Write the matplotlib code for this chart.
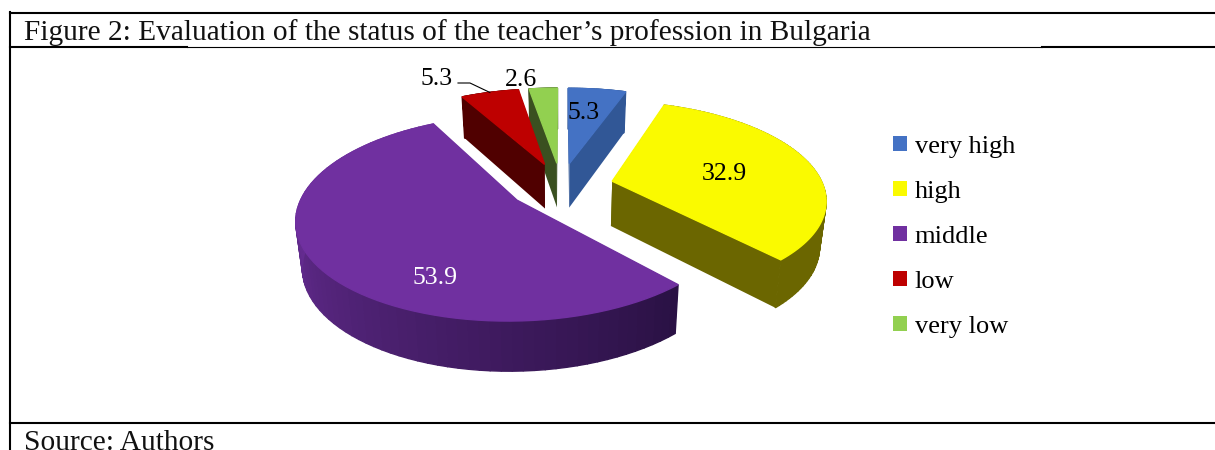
### MODULES USED: NUMPY AND MATPLOTLIB
import numpy as np
import matplotlib
matplotlib.use('Agg')
import matplotlib.pyplot as plt
from matplotlib.colors import to_rgb
from matplotlib.patches import Patch, Polygon

plt.rcParams['font.family'] = ['Liberation Serif', 'DejaVu Serif']

##### THE CHART DATA
categories = ['very high', 'high', 'middle', 'low', 'very low']
values = [5.3, 32.9, 53.9, 5.3, 2.6]
titleText = 'Figure 2: Evaluation of the status of the teacher\u2019s profession in Bulgaria'
sourceText = 'Source: Authors'

##### STYLES
topColors = ['#4472C4', '#FAFA00', '#7030A0', '#BE0000', '#92D050']
wallLight = ['#315796', '#6B6600', '#672D94', '#500000', '#3A5020']
wallDark = ['#315796', '#6B6600', '#2A1144', '#500000', '#3A5020']
labelColors = ['black', 'black', 'white', 'black', 'black']
labelPixels = [(584, 113), (724, 174), (435, 278), (437, 79), (521, 80)]

### THE PIE PROJECTION, ALL IN PIXELS OF THE 1215x450 PICTURE
centerX, centerY = 561, 186
radiusX, radiusY = 211, 95
perspective = 0.17
explode = 0.25
depth = 45
narrow = 0.975

### PUTS A POINT OF THE EXPLODED PIE ON THE PICTURE
def project(angle, radius, midAngle):
  planeX = radius * np.sin(angle) + explode * np.sin(midAngle)
  planeZ = radius * np.cos(angle) + explode * np.cos(midAngle)
  scale = 1 / (1 + perspective * planeZ)
  return(centerX + radiusX * planeX * scale, centerY - radiusY * planeZ * scale, np.sqrt(scale))

### THE SAME POINT ON THE UNDERSIDE OF THE PIE
def lower(x, y, s):
  return(centerX + (x - centerX) * narrow, y + depth * s)

### ONE SLICE: WALLS FIRST, THE TOP FACE GOES OVER THEM
def drawSlice(ax, start, end, index):
  mid = (start + end) / 2
  angles = np.linspace(start, end, 80)
  apex = project(0, 0, mid)

  for edge in (start, end):
    rim = project(edge, 1, mid)
    ax.add_patch(Polygon([apex[:2], rim[:2], lower(*rim), lower(*apex)],
                         facecolor=wallLight[index], edgecolor='none'))

  light, dark = np.array(to_rgb(wallLight[index])), np.array(to_rgb(wallDark[index]))
  for a, b in zip(angles[:-1], angles[1:]):
    p1 = project(a, 1, mid)
    p2 = project(b, 1, mid)
    ### THE SHADE GETS LIGHTER TOWARDS THE LEFT OF THE PIE
    shade = np.clip((np.degrees(a) - 137) / 133, 0, 1)
    color = dark + (light - dark) * shade
    ax.add_patch(Polygon([p1[:2], p2[:2], lower(*p2), lower(*p1)],
                         facecolor=color, edgecolor=color, linewidth=1.0))

  arc = [project(a, 1, mid)[:2] for a in angles]
  ax.add_patch(Polygon([apex[:2]] + arc, facecolor=topColors[index], edgecolor=topColors[index],
                       linewidth=1.0))

##### THE PICTURE
fig = plt.figure(figsize=(12.15, 4.5), dpi=100)
ax = fig.add_axes([0, 0, 1, 1])
ax.set_xlim(0, 1215)
ax.set_ylim(450, 0)
ax.axis('off')

### THE TABLE LINES AROUND THE FIGURE
ax.plot([10, 10], [12, 450], color='black', linewidth=1.5)
ax.plot([10, 1215], [12.5, 12.5], color='black', linewidth=1.5)
ax.plot([10, 1215], [423, 423], color='black', linewidth=1.5)
ax.plot([10, 187], [46.5, 46.5], color='black', linewidth=1.5)
ax.plot([187, 1042], [46.5, 46.5], color='black', linewidth=0.8)
ax.plot([1042, 1215], [46.5, 46.5], color='black', linewidth=1.5)

ax.text(24, 33, titleText, fontsize=21.2, va='center', ha='left', color='#111111')
ax.text(24, 449.5, sourceText, fontsize=21.2, va='baseline', ha='left', color='#111111')

### THE SLICES GO CLOCKWISE FROM THE TOP AND ARE DRAWN BACK TO FRONT
ends = np.cumsum(values) / np.sum(values) * 2 * np.pi
starts = ends - np.array(values) / np.sum(values) * 2 * np.pi
order = sorted(range(len(values)), key=lambda i: -np.cos((starts[i] + ends[i]) / 2))
for i in order:
  drawSlice(ax, starts[i], ends[i], i)

for i in range(len(values)):
  ax.text(labelPixels[i][0], labelPixels[i][1], str(values[i]), fontsize=18.5, ha='center',
          va='center', color=labelColors[i])

### THE LEADER LINE OF THE LOW SLICE
lowMid = (starts[3] + ends[3]) / 2
leaderX, leaderY, _ = project(lowMid, 1, lowMid)
ax.plot([458, 470, leaderX], [83, 83, leaderY], color='black', linewidth=0.8)

handles = [Patch(facecolor=c, edgecolor='none') for c in topColors]
ax.legend(handles, categories, loc='upper left', bbox_to_anchor=(893 / 1215, 1 - 136 / 450),
          frameon=False, fontsize=19, handlelength=0.53, handleheight=0.46, handletextpad=0.3,
          labelspacing=0.87, borderpad=0, borderaxespad=0)

fig.savefig('out.png', dpi=100)
